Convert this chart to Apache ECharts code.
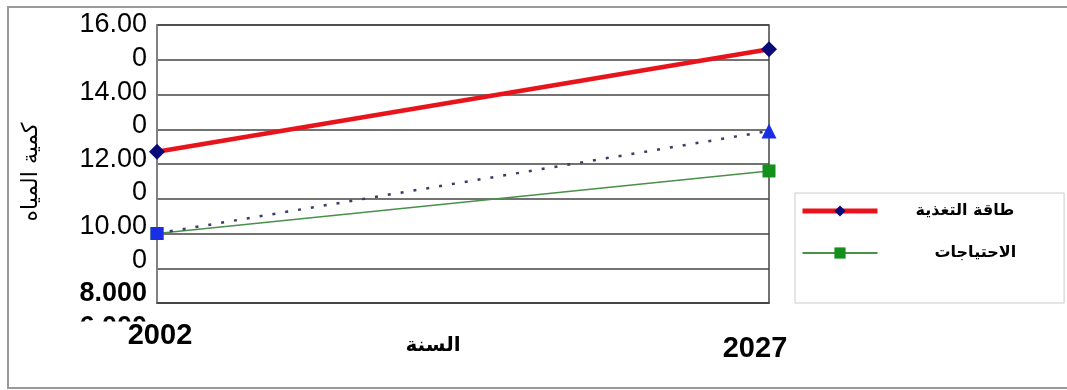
<!DOCTYPE html>
<html>
<head>
<meta charset="utf-8">
<script src="https://cdn.jsdelivr.net/npm/echarts@6/dist/echarts.min.js"></script>
<style>
html,body{margin:0;padding:0;background:#fff;}
#chart{width:1067px;height:390px;}
</style>
</head>
<body>
<div id="chart"></div>
<script>
// ---- data ----
const years = ['2002', '2027'];
const supplyName = 'طاقة التغذية';
const demandName = 'الاحتياجات';
const supply = [12.35, 15.3];
const demand = [10.0, 11.8];
const trend = [10.0, 12.95];
const yTickValues = [16, 15, 14, 13, 12, 11, 10, 9, 8, 7];
const yTickLabels = ['16.00', '0', '14.00', '0', '12.00', '0', '10.00', '0', '8.000', '6.000'];
const boldTicks = ['8.000', '6.000'];
const yTitle = 'كمية المياه';
const xTitle = 'السنة';

const chart = echarts.init(document.getElementById('chart'), null, {renderer: 'canvas'});
const AR = "'DejaVu Sans', sans-serif";
const LAT = "'Liberation Sans', Arial, sans-serif";

const option = {
  backgroundColor: '#fff',
  animation: false,
  graphic: [
    {type: 'rect', shape: {x: 8, y: 7, width: 1090, height: 381}, style: {fill: 'none', stroke: '#999', lineWidth: 2}, z: 0, silent: true}
  ],
  grid: [
    {left: 157, top: 25, width: 612, height: 278, show: true, borderColor: '#444', borderWidth: 1.5},
    {left: 157, top: 25, width: 612, height: 302.4, show: false}
  ],
  legend: {
    orient: 'vertical',
    left: 795, top: 193,
    padding: [10, 48, 42, 5],
    itemWidth: 75, itemHeight: 14, itemGap: 26,
    borderColor: '#ccc', borderWidth: 1,
    data: [
      {name: supplyName, lineStyle: {width: 5}, textStyle: {padding: [0, 0, 0, 33]}},
      {name: demandName, textStyle: {padding: [0, 0, 0, 52]}}
    ],
    textStyle: {fontFamily: AR, fontWeight: 'bold', fontSize: 16, color: '#000'}
  },
  xAxis: [
    {
      type: 'category', gridIndex: 0, data: years, boundaryGap: false, z: 5,
      axisLine: {lineStyle: {color: '#444', width: 1.5}},
      axisTick: {show: false},
      splitLine: {show: false},
      axisLabel: {
        margin: 27,
        formatter: function (v) { return v === years[1] ? '{b|' + v + '}' : '{a|' + v + '}'; },
        rich: {
          a: {fontFamily: LAT, fontWeight: 'bold', fontSize: 29, lineHeight: 18, color: '#000', backgroundColor: '#fff', padding: [0, 47, 6, 53]},
          b: {fontFamily: LAT, fontWeight: 'bold', fontSize: 29, lineHeight: 18, color: '#000', padding: [20, 28, 0, 0]}
        }
      },
      name: xTitle, nameLocation: 'middle', nameGap: 33, nameMoveOverlap: false,
      nameTextStyle: {fontFamily: AR, fontWeight: 'bold', fontSize: 20, color: '#000', padding: [0, 60, 0, 0]}
    },
    {type: 'value', gridIndex: 1, show: false, min: 0, max: 1}
  ],
  yAxis: [
    {
      type: 'value', gridIndex: 0, min: 8, max: 16, interval: 1,
      axisLine: {show: true, lineStyle: {color: '#888', width: 1.5}},
      axisTick: {show: false},
      axisLabel: {show: false},
      splitLine: {show: true, lineStyle: {color: '#444', width: 1.5}},
      name: yTitle, nameLocation: 'middle', nameGap: 115, nameRotate: 90, nameMoveOverlap: false,
      nameTextStyle: {fontFamily: AR, fontSize: 22, color: '#000', padding: [0, 16, 0, 0]}
    },
    {
      type: 'value', gridIndex: 1, min: 7, max: 16, interval: 1,
      axisLine: {show: false}, axisTick: {show: false}, splitLine: {show: false},
      axisLabel: {
        margin: 10,
        formatter: function (v) {
          const i = yTickValues.indexOf(v);
          const t = i >= 0 ? yTickLabels[i] : '';
          return boldTicks.indexOf(t) >= 0 ? '{b|' + t + '}' : '{n|' + t + '}';
        },
        rich: {
          n: {fontFamily: LAT, fontSize: 27, color: '#000'},
          b: {fontFamily: LAT, fontSize: 27, fontWeight: 'bold', color: '#000'}
        }
      }
    }
  ],
  series: [
    {
      name: supplyName, type: 'line', xAxisIndex: 0, yAxisIndex: 0,
      data: supply, symbol: 'diamond', symbolSize: 16,
      lineStyle: {color: '#e8141c', width: 4.5},
      itemStyle: {color: '#0a0a78'},
      z: 4
    },
    {
      name: demandName, type: 'line', xAxisIndex: 0, yAxisIndex: 0,
      data: demand, symbol: 'rect', symbolSize: 13,
      lineStyle: {color: '#4a8f4a', width: 1.5},
      itemStyle: {color: '#12901a'},
      z: 3
    },
    {
      name: 'trend', type: 'line', xAxisIndex: 0, yAxisIndex: 0,
      data: [
        {value: trend[0], symbol: 'rect', symbolSize: 13},
        {value: trend[1], symbol: 'triangle', symbolSize: 15}
      ],
      lineStyle: {color: '#3c3c66', width: 2.5, type: [3, 10]},
      itemStyle: {color: '#1a2ee6'},
      z: 5
    }
  ]
};
chart.setOption(option);
</script>
</body>
</html>
